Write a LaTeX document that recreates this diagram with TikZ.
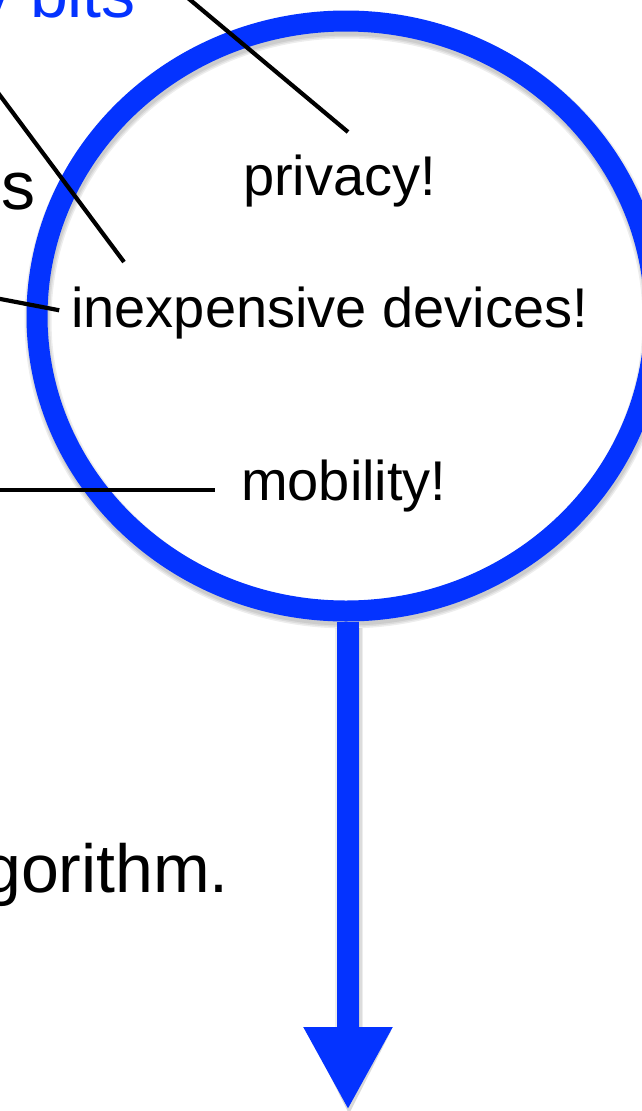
\documentclass[tikz,border=0pt]{standalone}
\usepackage{fontspec}
\setmainfont{Liberation Sans}
\usetikzlibrary{shapes.geometric,arrows.meta}
\definecolor{keyblue}{RGB}{4,51,255}
\tikzset{
  x=1pt, y=-1pt,
  label56/.style={inner sep=0pt, anchor=base west, font=\fontsize{56}{60}\selectfont},
  slidetext/.style={inner sep=0pt, anchor=base west, font=\fontsize{68}{72}\selectfont},
  pointer/.style={draw=black, line width=4.2pt},
  ringstyle/.style={draw=keyblue, line width=21pt, ellipse, minimum width=618pt, minimum height=590pt, inner sep=0pt},
  ringshadow/.style={draw=black, opacity=0.07, line width=#1, ellipse, minimum width=618pt, minimum height=590pt, inner sep=0pt},
}
\begin{document}
\begin{tikzpicture}
\useasboundingbox (0,0) rectangle (642,1111);
\clip (0,0) rectangle (642,1111);
\fill[white] (0,0) rectangle (642,1111);

% slide text running off the left edge
\node[slidetext, text=keyblue] (bits) at (-23,17) {y bits};
\node[slidetext] (s) at (1,209) {s};
\node[slidetext] (algo) at (-17,892) {gorithm.};

% soft drop shadow under the ring and the arrow
\foreach \w in {21pt,24pt,27pt} {
  \node[ringshadow=\w] at (347,320) {};
  \draw[black, opacity=0.07, line width=\w+1pt] (349,628) -- (349,1030);
}
\fill[black, opacity=0.15] (308,1031) -- (391,1031) -- (349,1114) -- cycle;

% the ring and its arrow
\node[ringstyle] (ring) at (346,316) {};
\coordinate (tip) at (348,1110);
\draw[keyblue, line width=22pt, -{Triangle[width=83pt,length=83pt]}] (ring.south -| tip) -- (tip);

% labels inside the ring
\node[label56] (privacy) at (243,195) {privacy!};
\node[label56] (inexp) at (71,327) {inexpensive devices!};
\node[label56] (mob) at (241,500) {mobility!};

% pointers from the slide text
\coordinate (c1) at (170,-17);
\coordinate (c1e) at (348,132);
\coordinate (c2) at (-10,82);
\coordinate (c2e) at (124,262);
\coordinate (c3) at (-10,297);
\coordinate (c4) at (-10,490);
\draw[pointer] (c1) -- (c1e);
\draw[pointer] (c2) -- (c2e);
\draw[pointer, shorten >=12pt] (c3) -- (inexp.west);
\draw[pointer] (c4) -- ([xshift=-26pt]mob.west |- c4);
\end{tikzpicture}
\end{document}
